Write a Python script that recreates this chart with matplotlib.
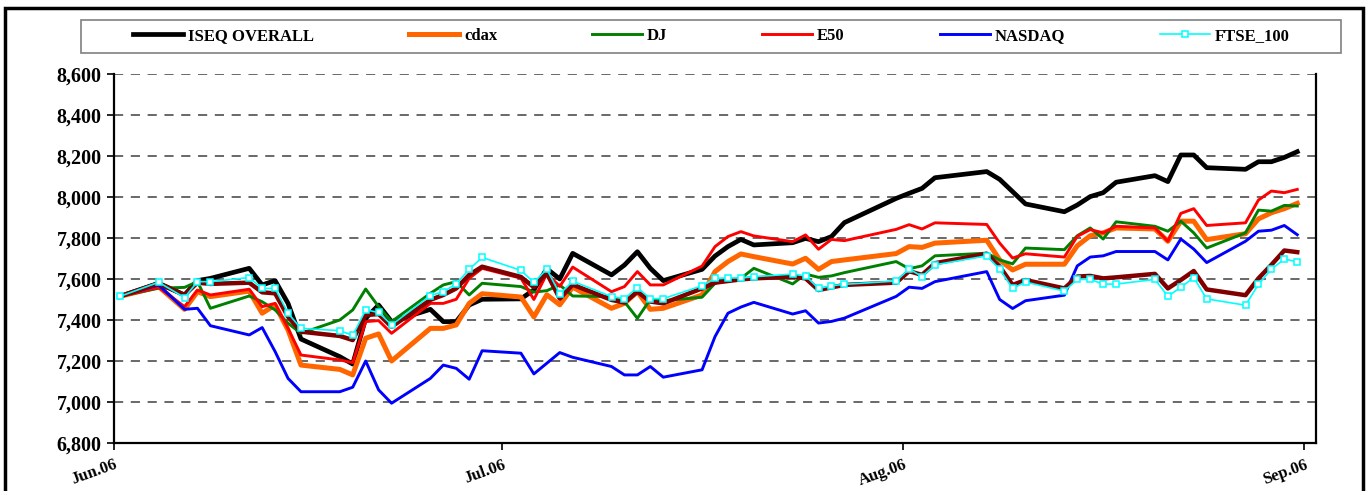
import matplotlib
matplotlib.use("Agg")
import matplotlib.pyplot as plt
import matplotlib.dates as mdates
import matplotlib.ticker as mticker
from matplotlib.patches import Rectangle
import pandas as pd

# trading days
dates = ["2006-06-01", "2006-06-04", "2006-06-06", "2006-06-07", "2006-06-08",
         "2006-06-11", "2006-06-12", "2006-06-13", "2006-06-14", "2006-06-15",
         "2006-06-18", "2006-06-19", "2006-06-20", "2006-06-21", "2006-06-22",
         "2006-06-25", "2006-06-26", "2006-06-27", "2006-06-28", "2006-06-29",
         "2006-07-02", "2006-07-03", "2006-07-04", "2006-07-05", "2006-07-06",
         "2006-07-09", "2006-07-10", "2006-07-11", "2006-07-12", "2006-07-13",
         "2006-07-16", "2006-07-17", "2006-07-18", "2006-07-19", "2006-07-20",
         "2006-07-23", "2006-07-24", "2006-07-25", "2006-07-26", "2006-07-27",
         "2006-07-31", "2006-08-01", "2006-08-02", "2006-08-03",
         "2006-08-07", "2006-08-08", "2006-08-09", "2006-08-10",
         "2006-08-13", "2006-08-14", "2006-08-15", "2006-08-16", "2006-08-17",
         "2006-08-20", "2006-08-21", "2006-08-22", "2006-08-23", "2006-08-24",
         "2006-08-27", "2006-08-28", "2006-08-29", "2006-08-30", "2006-08-31"]

iseq = [7515, 7579, 7522, 7592, 7603, 7652, 7571, 7592, 7481, 7307,
        7221, 7185, 7408, 7473, 7392, 7452, 7392, 7392, 7473, 7501,
        7503, 7547, 7650, 7600, 7725, 7620, 7668, 7733, 7652, 7592,
        7647, 7712, 7758, 7793, 7766, 7777, 7798, 7782, 7807, 7875,
        7993, 8018, 8042, 8094, 8124, 8086, 8026, 7966,
        7928, 7961, 8002, 8021, 8072, 8104, 8075, 8205, 8205, 8143,
        8135, 8172, 8172, 8193, 8221]

cdax = [7515, 7563, 7452, 7538, 7514, 7541, 7433, 7473, 7351, 7180,
        7159, 7132, 7311, 7332, 7200, 7359, 7359, 7376, 7481, 7528,
        7512, 7415, 7523, 7474, 7560, 7457, 7481, 7538, 7452, 7457,
        7522, 7636, 7685, 7722, 7709, 7673, 7701, 7647, 7685, 7693,
        7724, 7758, 7754, 7775, 7789, 7693, 7644, 7672,
        7672, 7762, 7811, 7825, 7849, 7844, 7784, 7882, 7882, 7792,
        7821, 7893, 7923, 7943, 7969]

dj = [7515, 7555, 7559, 7587, 7457, 7517, 7489, 7449, 7384, 7335,
      7400, 7449, 7551, 7465, 7392, 7530, 7571, 7587, 7522, 7579,
      7563, 7536, 7543, 7571, 7517, 7514, 7489, 7408, 7501, 7494,
      7511, 7579, 7595, 7603, 7652, 7576, 7624, 7608, 7615, 7631,
      7685, 7650, 7664, 7713, 7726, 7693, 7674, 7751,
      7743, 7811, 7849, 7795, 7879, 7857, 7833, 7882, 7825, 7751,
      7825, 7936, 7931, 7959, 7956]

e50 = [7515, 7559, 7465, 7546, 7522, 7550, 7465, 7481, 7359, 7229,
       7205, 7192, 7392, 7397, 7335, 7481, 7481, 7501, 7603, 7652,
       7604, 7500, 7625, 7564, 7658, 7538, 7563, 7636, 7571, 7571,
       7663, 7758, 7807, 7831, 7810, 7782, 7815, 7745, 7793, 7787,
       7842, 7865, 7844, 7874, 7866, 7775, 7702, 7723,
       7707, 7808, 7841, 7825, 7857, 7849, 7784, 7920, 7943, 7861,
       7874, 7985, 8029, 8021, 8037]

nasdaq = [7515, 7571, 7452, 7457, 7372, 7327, 7363, 7246, 7115, 7050,
          7050, 7072, 7200, 7059, 6994, 7115, 7180, 7164, 7111, 7250,
          7238, 7137, 7189, 7241, 7218, 7173, 7132, 7132, 7173, 7121,
          7157, 7319, 7433, 7463, 7486, 7429, 7445, 7385, 7393, 7409,
          7515, 7560, 7554, 7587, 7636, 7500, 7456, 7494,
          7521, 7664, 7707, 7713, 7734, 7734, 7693, 7795, 7746, 7680,
          7784, 7833, 7838, 7861, 7816]

ftse_100 = [7515, 7584, 7509, 7587, 7587, 7607, 7554, 7554, 7433, 7359,
            7348, 7325, 7449, 7437, 7376, 7519, 7538, 7576, 7647, 7705,
            7642, 7583, 7648, 7527, 7589, 7514, 7504, 7558, 7504, 7504,
            7567, 7603, 7605, 7605, 7611, 7624, 7615, 7554, 7567, 7574,
            7590, 7649, 7612, 7669, 7713, 7648, 7554, 7585,
            7541, 7598, 7598, 7575, 7575, 7598, 7516, 7559, 7607, 7503,
            7472, 7574, 7648, 7697, 7684]

# dark red series that has no legend entry
unlabelled = [7515, 7579, 7522, 7582, 7576, 7582, 7535, 7530, 7416, 7343,
              7322, 7302, 7424, 7429, 7367, 7498, 7522, 7554, 7620, 7660,
              7610, 7560, 7628, 7504, 7572, 7498, 7485, 7538, 7490, 7481,
              7554, 7582, 7590, 7598, 7603, 7611, 7603, 7546, 7559, 7571,
              7582, 7638, 7620, 7677, 7723, 7661, 7571, 7595,
              7554, 7612, 7615, 7603, 7608, 7625, 7554, 7595, 7639, 7549,
              7521, 7603, 7669, 7739, 7731]

month_ticks = ["2006-06-01", "2006-07-01", "2006-08-01", "2006-09-01"]
month_labels = ["Jun.06", "Jul.06", "Aug.06", "Sep.06"]

plt.rcParams["font.family"] = ["Liberation Serif", "DejaVu Serif"]
plt.rcParams["font.weight"] = "bold"

fig = plt.figure(figsize=(13.72, 4.91), dpi=100)
ax = fig.add_axes([0.0831, 0.0978, 0.8761, 0.7515])

# points sit in the middle of their day, like the original
x = mdates.date2num(pd.to_datetime(dates)) + 0.45

h_iseq, = ax.plot(x, iseq, color="black", lw=3.4, label="ISEQ OVERALL")
h_cdax, = ax.plot(x, cdax, color="#FF6600", lw=3.6, label="cdax")
h_dj, = ax.plot(x, dj, color="#008000", lw=2.1, label="DJ")
h_e50, = ax.plot(x, e50, color="#FF0000", lw=2.1, label="E50")
h_nas, = ax.plot(x, nasdaq, color="#0000FF", lw=2.1, label="NASDAQ")
ax.plot(x, unlabelled, color="#800000", lw=3.2, label="_nolegend_")
h_ftse, = ax.plot(x, ftse_100, color="#00FFFF", lw=1.2, marker="s", ms=4,
                  mfc="white", mec="#00FFFF", mew=1.1, label="FTSE_100")

tick_nums = mdates.date2num(pd.to_datetime(month_ticks))
ax.set_xlim(tick_nums[0], tick_nums[-1] + 0.9)
ax.set_ylim(6800, 8600)
ax.set_xticks(tick_nums)
ax.set_xticklabels(month_labels, rotation=20, ha="right", rotation_mode="anchor",
                   fontsize=12, fontweight="bold")
ax.yaxis.set_major_locator(mticker.MultipleLocator(200))
ax.yaxis.set_major_formatter(mticker.StrMethodFormatter("{x:,.0f}"))
for lab in ax.get_yticklabels():
    lab.set_fontsize(14.5)
    lab.set_fontweight("bold")
ax.tick_params(axis="y", direction="out", length=5, width=1.2, pad=4)
ax.tick_params(axis="x", direction="out", length=5, width=1.2, pad=5)

ax.grid(axis="y", color="#404040", lw=1.1, linestyle=(0, (6, 5)))
ax.set_axisbelow(True)
ax.spines["top"].set_visible(False)
for s in ["left", "bottom", "right"]:
    ax.spines[s].set_linewidth(1.6)
    ax.spines[s].set_color("black")

# legend entries spread across an inset band, frame drawn separately
leg = fig.legend(handles=[h_iseq, h_cdax, h_dj, h_e50, h_nas, h_ftse],
                 loc="center", bbox_to_anchor=(0.097, 0.9267, 0.843, 0.0),
                 mode="expand", ncol=6, frameon=False, borderpad=0,
                 handlelength=3.0, handletextpad=0.3, borderaxespad=0,
                 prop={"size": 12, "weight": "bold"})

fig.patches.append(Rectangle((81 / 1372, 1 - 53 / 491), 1260 / 1372, 33 / 491,
                             transform=fig.transFigure, fill=False,
                             edgecolor="#808080", lw=1.2))

# outer chart frame
fig.patches.append(Rectangle((0.0036, -0.05), 0.9898, 1.034, transform=fig.transFigure,
                             fill=False, edgecolor="black", lw=2.5))

fig.savefig("out.png", dpi=100)
